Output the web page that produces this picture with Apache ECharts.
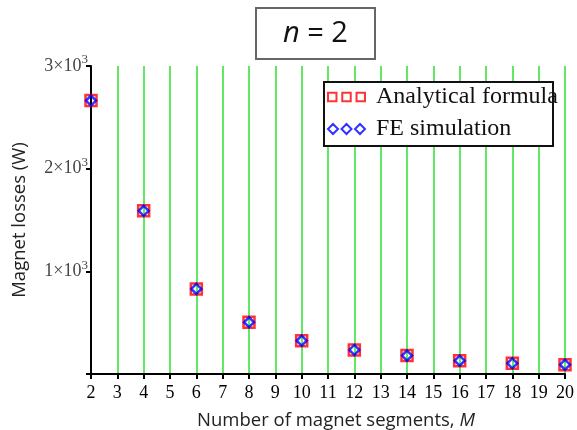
<!DOCTYPE html>
<html>
<head>
<meta charset="utf-8">
<script src="https://cdn.jsdelivr.net/npm/echarts@6/dist/echarts.min.js"></script>
<style>
  html, body { margin: 0; padding: 0; background: #fff; }
  #chart { width: 577px; height: 430px; }
</style>
</head>
<body>
<div id="chart"></div>
<script>
// number of magnet segments M
const segments = [2, 4, 6, 8, 10, 12, 14, 16, 18, 20]
// magnet losses (W)
const analytical = [2663, 1590, 829, 504, 325, 234, 179, 130, 104, 91]
const feSim = [2663, 1590, 829, 504, 325, 234, 179, 130, 104, 91]
const yTicks = [0, 1000, 2000, 3000]

const chart = echarts.init(document.getElementById('chart'))

const serif = 'Liberation Serif'
const sans = 'Open Sans'

const squaresIcon = 'path://M1,1H9V9H1Z M14.5,1H22.5V9H14.5Z M28,1H36V9H28Z'
const diamondsIcon = 'path://M5,0L10,5L5,10L0,5Z M18.5,0L23.5,5L18.5,10L13.5,5Z M32,0L37,5L32,10L27,5Z'

chart.setOption({
  backgroundColor: '#fff',
  animation: false,
  title: {
    text: '{i|n} = 2',
    left: 256,
    top: 8,
    padding: [11, 27, 11, 27],
    borderColor: '#666',
    borderWidth: 2,
    textStyle: {
      fontFamily: sans,
      fontSize: 29,
      fontWeight: 'normal',
      color: '#111',
      rich: {
        i: { fontFamily: sans, fontSize: 29, fontStyle: 'italic', color: '#111' }
      }
    }
  },
  graphic: [{
    type: 'rect',
    left: 323,
    top: 81,
    shape: { width: 229, height: 64 },
    style: { fill: '#fff', stroke: '#111', lineWidth: 2 },
    z: 5
  }],
  legend: {
    orient: 'vertical',
    left: 327,
    top: 85,
    padding: 0,
    itemGap: 8,
    itemWidth: 37,
    itemHeight: 10,
    z: 10,
    textStyle: { fontFamily: serif, fontSize: 24, color: '#111', padding: [0, 0, 0, 6] },
    data: [
      { name: 'Analytical formula', icon: squaresIcon, itemStyle: { color: 'rgba(0,0,0,0)', borderColor: '#ff0000', borderWidth: 2 } },
      { name: 'FE simulation', icon: diamondsIcon, itemStyle: { color: 'rgba(0,0,0,0)', borderColor: '#0000ff', borderWidth: 2 } }
    ]
  },
  grid: { left: 91, right: 12, top: 66, bottom: 56, outerBoundsMode: 'none' },
  xAxis: {
    type: 'value',
    min: 2,
    max: 20,
    interval: 1,
    axisLine: { onZero: false, lineStyle: { color: '#000', width: 2 } },
    axisTick: { show: true, length: 5, lineStyle: { color: '#000', width: 2 } },
    axisLabel: { margin: 10, fontFamily: serif, fontSize: 18, color: '#000' },
    splitLine: { show: true, lineStyle: { color: '#2fe02f', width: 1.5 } },
    name: '{t|Number of magnet segments, }{i|M}',
    nameLocation: 'middle',
    nameGap: 37,
    nameTextStyle: {
      padding: [0, 0, 0, 16],
      rich: {
        t: { fontFamily: sans, fontSize: 18.5, color: '#222' },
        i: { fontFamily: sans, fontSize: 18.5, color: '#222', fontStyle: 'italic' }
      }
    }
  },
  yAxis: {
    type: 'value',
    min: 0,
    max: 3000,
    interval: 1000,
    axisLine: { show: true, onZero: false, lineStyle: { color: '#000', width: 2 } },
    axisTick: { show: true, length: 5, lineStyle: { color: '#000', width: 2 } },
    splitLine: { show: false },
    axisLabel: {
      margin: 3,
      formatter: function(v) {
        if (yTicks.indexOf(v) <= 0) return ''
        return '{b|' + (v / 1000) + '×10}{s|3}'
      },
      rich: {
        b: { fontFamily: serif, fontSize: 18, color: '#444', lineHeight: 20 },
        s: { fontFamily: serif, fontSize: 13, color: '#444', padding: [0, 0, 12, 0] }
      }
    },
    name: 'Magnet losses (W)',
    nameLocation: 'middle',
    nameGap: 62,
    nameTextStyle: { fontFamily: sans, fontSize: 18.5, color: '#222' }
  },
  series: [
    {
      name: 'Analytical formula',
      type: 'scatter',
      symbol: 'rect',
      symbolSize: 11,
      itemStyle: { color: 'rgba(0,0,0,0)', borderColor: '#ff0000', borderWidth: 2.5 },
      data: segments.map((m, i) => [m, analytical[i]])
    },
    {
      name: 'FE simulation',
      type: 'scatter',
      symbol: 'diamond',
      symbolSize: 10,
      itemStyle: { color: 'rgba(0,0,0,0)', borderColor: '#0000ff', borderWidth: 2.5 },
      data: segments.map((m, i) => [m, feSim[i]])
    }
  ]
})
</script>
</body>
</html>
